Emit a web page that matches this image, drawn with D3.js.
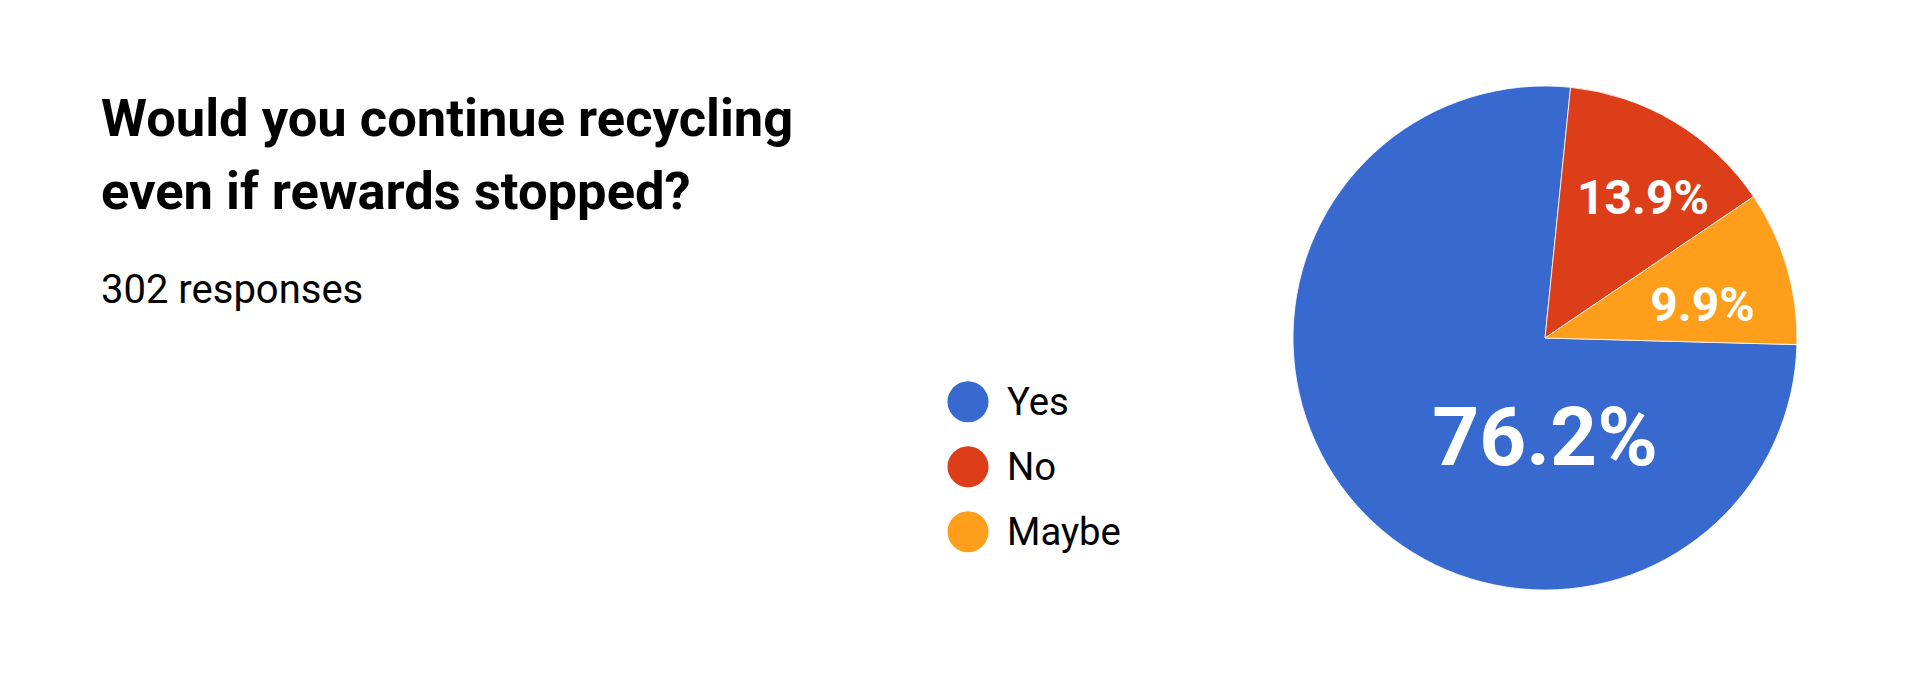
<!DOCTYPE html>
<html>
<head>
<meta charset="utf-8">
<script src="https://cdn.jsdelivr.net/npm/d3@7"></script>
<style>
  html, body { margin: 0; padding: 0; background: #fff; }
  svg { display: block; font-family: Roboto, "Noto Sans", sans-serif; }
</style>
</head>
<body>
<svg id="chart" width="1920" height="680"></svg>
<script>
var titleLines = ["Would you continue recycling", "even if rewards stopped?"];
var subtitle = "302 responses";
var categories = ["Yes", "No", "Maybe"];
var values = [76.2, 13.9, 9.9];
var colors = ["#3769ce", "#dc3e19", "#ff9e1b"];

var width = 1920, height = 680;
var svg = d3.select("#chart");

// title block
var title = svg.append("text")
    .attr("x", 101)
    .attr("font-size", 52.5)
    .attr("font-weight", 700)
    .attr("fill", "#000");
title.selectAll("tspan")
    .data(titleLines)
  .enter().append("tspan")
    .attr("x", 101)
    .attr("y", function(d, i) { return 136 + i * 73; })
    .text(function(d) { return d; });

svg.append("text")
    .attr("x", 101)
    .attr("y", 303)
    .attr("font-size", 40)
    .attr("fill", "#000")
    .text(subtitle);

// legend
var legendY = d3.scalePoint()
    .domain(categories)
    .range([401.7, 531.7]);

var legend = svg.append("g").attr("class", "legend");
var item = legend.selectAll("g")
    .data(categories)
  .enter().append("g")
    .attr("transform", function(d) { return "translate(968," + legendY(d) + ")"; });
item.append("circle")
    .attr("r", 20.5)
    .attr("fill", function(d, i) { return colors[i]; });
item.append("text")
    .attr("x", 39)
    .attr("y", 13.5)
    .attr("font-size", 38.3)
    .attr("fill", "#000")
    .text(function(d) { return d; });

// pie
var cx = 1545, cy = 338, radius = 252;
var startDeg = 91.5;
var pie = d3.pie()
    .sort(null)
    .value(function(d) { return d; })
    .startAngle(startDeg * Math.PI / 180)
    .endAngle((startDeg + 360) * Math.PI / 180);
var arcs = pie(values);
var arc = d3.arc().innerRadius(0).outerRadius(radius);

var g = svg.append("g").attr("transform", "translate(" + cx + "," + cy + ")");
g.selectAll("path")
    .data(arcs)
  .enter().append("path")
    .attr("d", arc)
    .attr("fill", function(d, i) { return colors[i]; })
    .attr("stroke", "#fff")
    .attr("stroke-width", 0.8);

// slice labels: big slice sits below the centre, small ones near the rim
function labelPos(d) {
  var span = d.endAngle - d.startAngle;
  var a, r;
  if (span > Math.PI) { a = Math.PI; r = 0.39 * radius; }
  else {
    a = (d.startAngle + d.endAngle) / 2 + 4 * Math.PI / 180;
    r = (span > 0.8 ? 0.68 : 0.64) * radius;
  }
  return [r * Math.sin(a), -r * Math.cos(a)];
}
function labelSize(d) {
  return (d.endAngle - d.startAngle) > Math.PI ? 82 : 48;
}

g.selectAll("text.slice")
    .data(arcs)
  .enter().append("text")
    .attr("class", "slice")
    .attr("x", function(d) { return labelPos(d)[0]; })
    .attr("y", function(d) { return labelPos(d)[1] + labelSize(d) * 0.355; })
    .attr("text-anchor", "middle")
    .attr("font-size", labelSize)
    .attr("font-weight", 700)
    .attr("fill", "#fff")
    .text(function(d) { return d.data.toFixed(1) + "%"; });
</script>
</body>
</html>
